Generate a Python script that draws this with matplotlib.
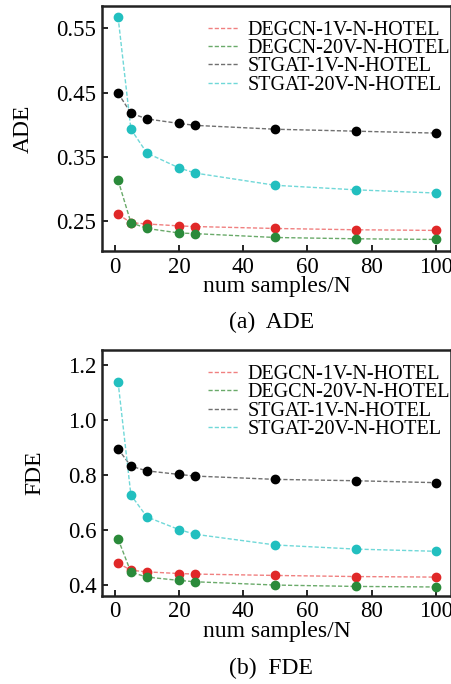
import numpy as np
import matplotlib
matplotlib.use('agg')
import matplotlib.pyplot as plt

plt.rcParams['font.family'] = ['Liberation Serif', 'DejaVu Serif']

samples = [1, 5, 10, 20, 25, 50, 75, 100]
labels = ["DEGCN-1V-N-HOTEL", "DEGCN-20V-N-HOTEL", "STGAT-1V-N-HOTEL", "STGAT-20V-N-HOTEL"]

ade_degcn_1v = [0.261, 0.248, 0.246, 0.243, 0.242, 0.239, 0.237, 0.236]
ade_degcn_20v = [0.314, 0.248, 0.239, 0.232, 0.231, 0.225, 0.223, 0.222]
ade_stgat_1v = [0.449, 0.418, 0.409, 0.402, 0.399, 0.393, 0.390, 0.387]
ade_stgat_20v = [0.567, 0.393, 0.356, 0.333, 0.325, 0.306, 0.299, 0.294]

fde_degcn_1v = [0.479, 0.453, 0.447, 0.441, 0.439, 0.434, 0.430, 0.428]
fde_degcn_20v = [0.567, 0.446, 0.428, 0.416, 0.411, 0.399, 0.394, 0.392]
fde_stgat_1v = [0.895, 0.832, 0.815, 0.802, 0.796, 0.784, 0.779, 0.772]
fde_stgat_20v = [1.139, 0.727, 0.647, 0.601, 0.584, 0.545, 0.530, 0.522]

line_colors = ['#f08080', '#6aaa6a', '#707070', '#70d8d8']
dot_colors = ['#e02828', '#2a8a3a', '#000000', '#22bfbf']


def draw(ax, series, ylabel, yticks, ylim, fmt):
    for vals, lab, lc, dc in zip(series, labels, line_colors, dot_colors):
        ax.plot(samples, vals, '--', color=lc, lw=1.0, dashes=(3, 1.5), label=lab, zorder=2)
        ax.plot(samples, vals, 'o', color=dc, ms=6, zorder=3)
    ax.set_xlim(-4, 104.7)
    ax.set_ylim(*ylim)
    ax.set_xticks([0, 20, 40, 60, 80, 100])
    ax.set_yticks(yticks)
    ax.set_yticklabels([fmt.format(v) for v in yticks])
    ax.tick_params(direction='in', length=4, width=1.2, labelsize=16.5, pad=4)
    for s in ax.spines.values():
        s.set_linewidth(1.8)
        s.set_color('#222222')
    ax.set_xlabel("num samples/N", fontsize=17, labelpad=-1)
    ax.set_ylabel(ylabel, fontsize=17, labelpad=16)
    ax.legend(loc='upper right', bbox_to_anchor=(1.01, 0.955), frameon=False, fontsize=14.5,
              handlelength=1.5, handletextpad=0.5, labelspacing=-0.05,
              borderaxespad=0.0, borderpad=0.2)


fig = plt.figure(figsize=(4.52, 6.84), dpi=100)
ax1 = fig.add_axes([0.2257, 0.633, 0.772, 0.358])
ax2 = fig.add_axes([0.2257, 0.129, 0.772, 0.359])

draw(ax1, [ade_degcn_1v, ade_degcn_20v, ade_stgat_1v, ade_stgat_20v], "ADE",
     [0.25, 0.35, 0.45, 0.55], (0.204, 0.584), "{:.2f}")
draw(ax2, [fde_degcn_1v, fde_degcn_20v, fde_stgat_1v, fde_stgat_20v], "FDE",
     [0.4, 0.6, 0.8, 1.0, 1.2], (0.36, 1.2545), "{:.1f}")

fig.text(0.6, 1 - 322 / 684, "(a)  ADE", ha='center', va='center', fontsize=17)
fig.text(0.6, 1 - 668 / 684, "(b)  FDE", ha='center', va='center', fontsize=17)

fig.savefig('out.png', dpi=100)
